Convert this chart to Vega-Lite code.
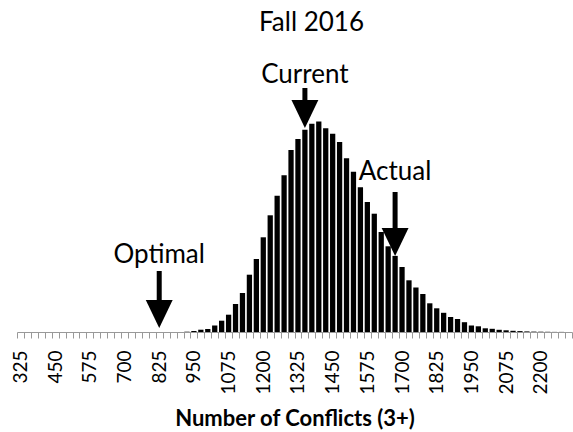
{
  "$schema": "https://vega.github.io/schema/vega-lite/v6.json",
  "width": 555,
  "height": 292,
  "autosize": {"type": "none"},
  "padding": {"left": 17, "top": 40, "right": 1, "bottom": 100},
  "background": "white",
  "config": {"view": {"stroke": null}, "font": "Lato"},
  "title": {"text": "Fall 2016", "font": "Lato", "fontSize": 26, "fontWeight": "normal", "color": "black", "anchor": "middle", "dx": 17, "dy": 26, "offset": 9, "baseline": "alphabetic"},
  "datasets": {
    "bins": [
      {"bin": 325, "count": 0}, {"bin": 350, "count": 0}, {"bin": 375, "count": 0}, {"bin": 400, "count": 0},
      {"bin": 425, "count": 0}, {"bin": 450, "count": 0}, {"bin": 475, "count": 0}, {"bin": 500, "count": 0},
      {"bin": 525, "count": 0}, {"bin": 550, "count": 0}, {"bin": 575, "count": 0}, {"bin": 600, "count": 0},
      {"bin": 625, "count": 0}, {"bin": 650, "count": 0}, {"bin": 675, "count": 0}, {"bin": 700, "count": 0},
      {"bin": 725, "count": 0}, {"bin": 750, "count": 0}, {"bin": 775, "count": 0}, {"bin": 800, "count": 0},
      {"bin": 825, "count": 0}, {"bin": 850, "count": 0}, {"bin": 875, "count": 0}, {"bin": 900, "count": 0},
      {"bin": 925, "count": 0.3}, {"bin": 950, "count": 1}, {"bin": 975, "count": 2.3}, {"bin": 1000, "count": 3},
      {"bin": 1025, "count": 6.5}, {"bin": 1050, "count": 11.3}, {"bin": 1075, "count": 17.3}, {"bin": 1100, "count": 28},
      {"bin": 1125, "count": 39}, {"bin": 1150, "count": 57.3}, {"bin": 1175, "count": 73}, {"bin": 1200, "count": 94.7},
      {"bin": 1225, "count": 116.7}, {"bin": 1250, "count": 136.3}, {"bin": 1275, "count": 156.7}, {"bin": 1300, "count": 182},
      {"bin": 1325, "count": 193}, {"bin": 1350, "count": 202.3}, {"bin": 1375, "count": 208.2}, {"bin": 1400, "count": 210.4},
      {"bin": 1425, "count": 203.7}, {"bin": 1450, "count": 198.3}, {"bin": 1475, "count": 190}, {"bin": 1500, "count": 173.7},
      {"bin": 1525, "count": 160.2}, {"bin": 1550, "count": 144.8}, {"bin": 1575, "count": 130}, {"bin": 1600, "count": 118.3},
      {"bin": 1625, "count": 100}, {"bin": 1650, "count": 85.7}, {"bin": 1675, "count": 76.1}, {"bin": 1700, "count": 65},
      {"bin": 1725, "count": 51.7}, {"bin": 1750, "count": 44.5}, {"bin": 1775, "count": 38}, {"bin": 1800, "count": 28.7},
      {"bin": 1825, "count": 23.7}, {"bin": 1850, "count": 19.2}, {"bin": 1875, "count": 15}, {"bin": 1900, "count": 13},
      {"bin": 1925, "count": 9.8}, {"bin": 1950, "count": 6.5}, {"bin": 1975, "count": 5.7}, {"bin": 2000, "count": 3.7},
      {"bin": 2025, "count": 3.2}, {"bin": 2050, "count": 2.2}, {"bin": 2075, "count": 1.7}, {"bin": 2100, "count": 1.2},
      {"bin": 2125, "count": 0.9}, {"bin": 2150, "count": 0.6}, {"bin": 2175, "count": 0.4}, {"bin": 2200, "count": 0.3},
      {"bin": 2225, "count": 0.2}, {"bin": 2250, "count": 0.1}, {"bin": 2275, "count": 0.1}, {"bin": 2300, "count": 0}
    ],
    "notes": [
      {"bin": 825, "label": "Optimal", "tip": 4, "tail": 61, "labelY": 69},
      {"bin": 1350, "label": "Current", "tip": 204, "tail": 244, "labelY": 249},
      {"bin": 1675, "label": "Actual", "tip": 76, "tail": 140, "labelY": 152}
    ]
  },
  "encoding": {
    "x": {
      "field": "bin",
      "type": "ordinal",
      "scale": {"paddingInner": 0, "paddingOuter": 0},
      "axis": {
        "title": "Number of Conflicts (3+)",
        "titleFont": "Lato",
        "titleFontSize": 22,
        "titleFontWeight": "bold",
        "titleColor": "black",
        "titleY": 93,
        "titleBaseline": "alphabetic",
        "labelAngle": -90,
        "labelAlign": "right",
        "labelBaseline": "middle",
        "labelFont": "Lato",
        "labelFontSize": 19,
        "labelColor": "black",
        "labelPadding": 12,
        "labelOverlap": false,
        "labelExpr": "(datum.value - 325) % 125 === 0 ? datum.label : ''",
        "tickBand": "extent",
        "tickSize": 6,
        "tickWidth": 1,
        "tickColor": "#999999",
        "domainColor": "#999999",
        "domainWidth": 1,
        "grid": false
      }
    }
  },
  "layer": [
    {
      "data": {"name": "bins"},
      "mark": {"type": "bar", "color": "black", "width": {"band": 0.76}},
      "encoding": {
        "y": {"field": "count", "type": "quantitative", "scale": {"domain": [0, 292], "nice": false}, "axis": null}
      }
    },
    {
      "data": {"name": "notes"},
      "mark": {"type": "rule", "color": "black", "strokeWidth": 5, "y2Offset": -14},
      "encoding": {
        "y": {"field": "tail", "type": "quantitative", "axis": null},
        "y2": {"field": "tip"}
      }
    },
    {
      "data": {"name": "notes"},
      "mark": {"type": "point", "shape": "M-0.96,-1L0.96,-1L0,1Z", "size": 784, "filled": true, "color": "black", "opacity": 1, "strokeWidth": 0, "yOffset": -14},
      "encoding": {
        "y": {"field": "tip", "type": "quantitative", "axis": null}
      }
    },
    {
      "data": {"name": "notes"},
      "mark": {"type": "text", "font": "Lato", "fontSize": 26, "color": "black", "align": "center", "baseline": "alphabetic"},
      "encoding": {
        "y": {"field": "labelY", "type": "quantitative", "axis": null},
        "text": {"field": "label"}
      }
    }
  ]
}
